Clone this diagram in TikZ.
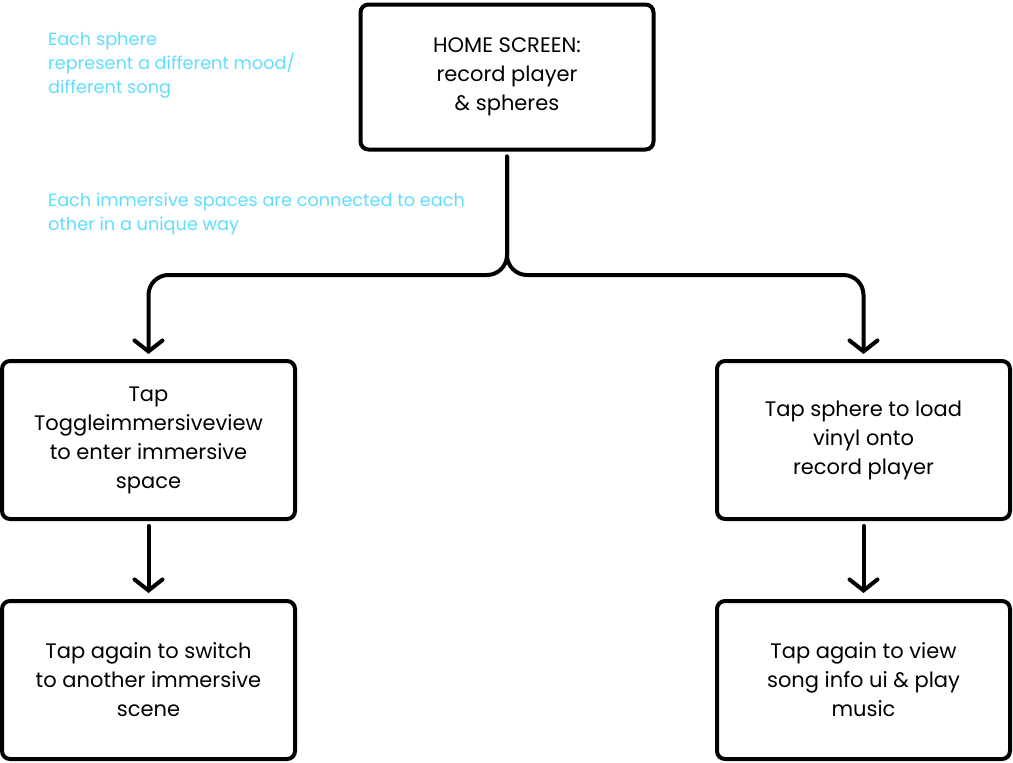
\documentclass[tikz,border=0pt]{standalone}
\usepackage{fontspec}
\setmainfont{Poppins}
\usetikzlibrary{arrows.meta}
\definecolor{noteblue}{RGB}{94,221,255}
\tikzset{
  box/.style={draw=black, line width=4pt, rounded corners=8pt, minimum width=293pt, inner sep=0pt, outer sep=0pt, align=center, font=\fontsize{21}{29}\selectfont},
  conn/.style={draw=black, line width=4pt, line cap=round, rounded corners=20pt, -{Straight Barb[length=11pt,width=28pt,line width=4pt,line cap=round]}},
  note/.style={text=noteblue, align=left, inner sep=0pt, anchor=base west, font=\fontsize{17.7}{24}\selectfont}
}
\begin{document}
\begin{tikzpicture}[x=1pt,y=-1pt]
\useasboundingbox (0,0) rectangle (1013,763);
\node[box, minimum height=145pt] (home) at (507,77) {HOME SCREEN:\\record player\\\& spheres};
\node[box, minimum height=158pt] (l1) at (148.5,440) {Tap\\Toggleimmersiveview\\to enter immersive\\space};
\node[box, minimum height=158pt] (l2) at (148.5,680) {Tap again to switch\\to another immersive\\scene};
\node[box, minimum height=158pt] (r1) at (863.5,440) {Tap sphere to load\\vinyl onto\\record player};
\node[box, minimum height=158pt] (r2) at (863.5,680) {Tap again to view\\song info ui \& play\\music};
\node[note] (n1) at (48,93) {Each sphere\\represent a different mood/\\different song};
\node[note] (n2) at (48,230) {Each immersive spaces are connected to each\\other in a unique way};
\coordinate (j) at (507,275);
\draw[conn, shorten <=7pt, shorten >=7pt] (home.south) -- (j) -- (j -| l1.north) -- (l1.north);
\draw[conn, shorten <=7pt, shorten >=7pt] (home.south) -- (j) -- (j -| r1.north) -- (r1.north);
\draw[conn, shorten <=7pt, shorten >=8pt] (l1.south) -- (l2.north);
\draw[conn, shorten <=7pt, shorten >=8pt] (r1.south) -- (r2.north);
\end{tikzpicture}
\end{document}
